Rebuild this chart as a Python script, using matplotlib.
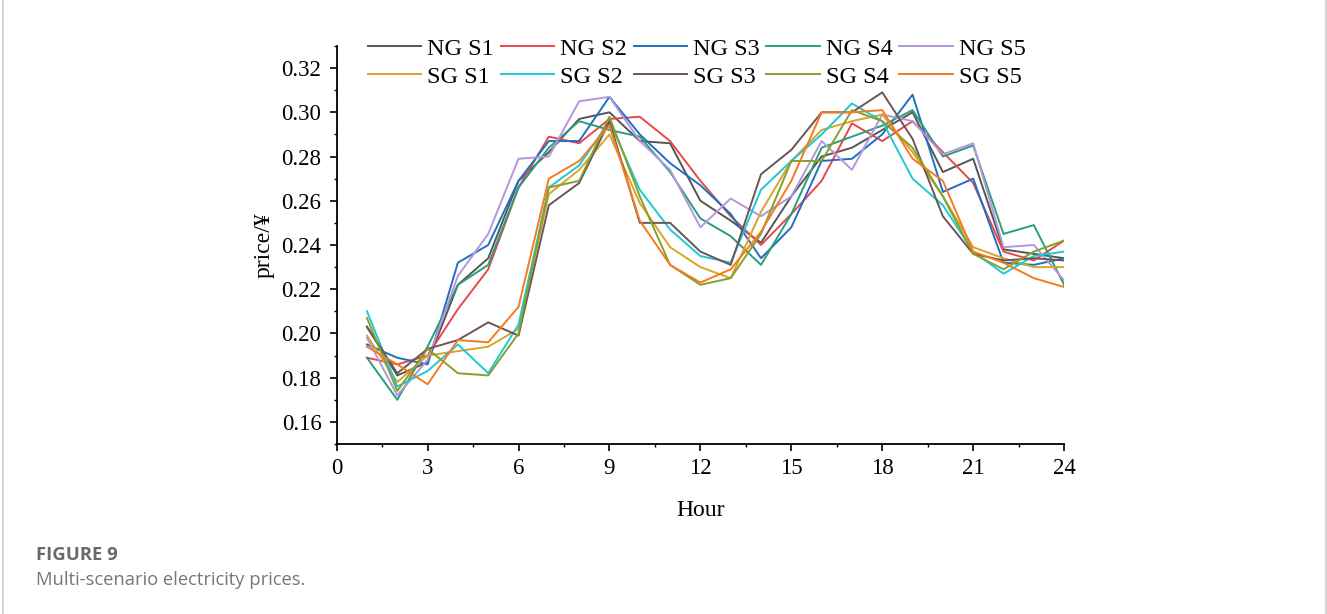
import matplotlib
matplotlib.use("Agg")
import matplotlib.pyplot as plt
from matplotlib.lines import Line2D
from matplotlib.ticker import MultipleLocator

hours = list(range(1, 25))

ng_s1 = [0.203, 0.181, 0.187, 0.222, 0.234, 0.269, 0.282, 0.297, 0.300, 0.287, 0.286, 0.260,
         0.251, 0.241, 0.262, 0.280, 0.284, 0.292, 0.300, 0.273, 0.279, 0.238, 0.236, 0.234]
ng_s2 = [0.189, 0.186, 0.190, 0.211, 0.229, 0.266, 0.289, 0.286, 0.297, 0.298, 0.287, 0.269,
         0.253, 0.240, 0.254, 0.269, 0.295, 0.287, 0.296, 0.282, 0.268, 0.237, 0.233, 0.242]
ng_s3 = [0.195, 0.189, 0.186, 0.232, 0.240, 0.269, 0.287, 0.287, 0.307, 0.290, 0.277, 0.267,
         0.254, 0.234, 0.248, 0.278, 0.279, 0.290, 0.308, 0.264, 0.270, 0.232, 0.231, 0.234]
ng_s4 = [0.189, 0.170, 0.194, 0.222, 0.231, 0.266, 0.284, 0.296, 0.292, 0.289, 0.273, 0.252,
         0.244, 0.231, 0.254, 0.284, 0.289, 0.294, 0.301, 0.280, 0.285, 0.245, 0.249, 0.222]
ng_s5 = [0.198, 0.172, 0.188, 0.226, 0.245, 0.279, 0.280, 0.305, 0.307, 0.287, 0.274, 0.248,
         0.261, 0.253, 0.262, 0.287, 0.274, 0.299, 0.296, 0.281, 0.286, 0.239, 0.240, 0.224]
sg_s1 = [0.199, 0.178, 0.190, 0.192, 0.194, 0.202, 0.263, 0.274, 0.290, 0.259, 0.239, 0.230,
         0.225, 0.255, 0.278, 0.292, 0.296, 0.299, 0.282, 0.262, 0.239, 0.234, 0.230, 0.230]
sg_s2 = [0.210, 0.176, 0.183, 0.195, 0.182, 0.204, 0.266, 0.276, 0.296, 0.265, 0.247, 0.235,
         0.232, 0.265, 0.278, 0.290, 0.304, 0.296, 0.270, 0.258, 0.237, 0.227, 0.235, 0.237]
sg_s3 = [0.203, 0.182, 0.193, 0.197, 0.205, 0.199, 0.258, 0.268, 0.296, 0.250, 0.250, 0.237,
         0.231, 0.272, 0.283, 0.300, 0.300, 0.309, 0.288, 0.253, 0.236, 0.233, 0.234, 0.233]
sg_s4 = [0.207, 0.174, 0.193, 0.182, 0.181, 0.200, 0.266, 0.269, 0.298, 0.262, 0.231, 0.222,
         0.225, 0.245, 0.278, 0.278, 0.301, 0.296, 0.284, 0.262, 0.236, 0.229, 0.237, 0.242]
sg_s5 = [0.194, 0.186, 0.177, 0.197, 0.196, 0.212, 0.270, 0.278, 0.294, 0.251, 0.231, 0.223,
         0.229, 0.246, 0.269, 0.300, 0.300, 0.301, 0.279, 0.269, 0.237, 0.232, 0.225, 0.221]

series = [
    ("NG S1", ng_s1, "#555555"),
    ("NG S2", ng_s2, "#e9474a"),
    ("NG S3", ng_s3, "#2070c0"),
    ("NG S4", ng_s4, "#2a9d7a"),
    ("NG S5", ng_s5, "#b695db"),
    ("SG S1", sg_s1, "#d9a42a"),
    ("SG S2", sg_s2, "#1ec8d6"),
    ("SG S3", sg_s3, "#6e5454"),
    ("SG S4", sg_s4, "#86a02c"),
    ("SG S5", sg_s5, "#f47b20"),
]

plt.rcParams["font.family"] = ["Liberation Serif", "DejaVu Serif"]

fig = plt.figure(figsize=(13.27, 6.14), dpi=100)
ax = fig.add_axes([0.2537, 0.2769, 0.5482, 0.6482])

for label, vals, color in series:
    ax.plot(hours, vals, color=color, lw=1.4, label=label)

ax.set_xlim(0, 24)
ax.set_ylim(0.15, 0.33)
ax.xaxis.set_major_locator(MultipleLocator(3))
ax.xaxis.set_minor_locator(MultipleLocator(1.5))
ax.yaxis.set_major_locator(MultipleLocator(0.02))
ax.yaxis.set_minor_locator(MultipleLocator(0.01))
ax.yaxis.set_major_formatter(plt.FuncFormatter(lambda v, p: f"{v:.2f}"))
for s in ("top", "right"):
    ax.spines[s].set_visible(False)
for s in ("left", "bottom"):
    ax.spines[s].set_linewidth(1.3)
ax.tick_params(which="major", direction="out", length=5, width=1.2, labelsize=16.5)
ax.tick_params(axis="x", which="major", pad=5)
ax.tick_params(axis="y", which="major", pad=6)
ax.tick_params(which="minor", direction="out", length=2.5, width=1.0)
ax.set_xlabel("Hour", fontsize=17, labelpad=15)
ax.set_ylabel("price/¥", fontsize=17, labelpad=5)

# legend: 2 rows x 5 cols, row-major order
h, l = ax.get_legend_handles_labels()
order = [0, 5, 1, 6, 2, 7, 3, 8, 4, 9]
ax.legend([h[i] for i in order], [l[i] for i in order], ncol=5, frameon=False,
          loc="center", bbox_to_anchor=(0.495, 0.958), fontsize=17.5,
          handlelength=2.2, handletextpad=0.25, columnspacing=0.27,
          labelspacing=0.25, borderpad=0)

# caption
fig.text(36 / 1327, 1 - 555 / 614, "FIGURE 9", fontsize=13.3, fontweight="bold",
         color="#686868", family="Open Sans", va="center")
fig.text(36 / 1327, 1 - 580 / 614, "Multi-scenario electricity prices.", fontsize=13.2,
         color="#777777", family="Open Sans", va="center")

# faint frame lines at the left and right edges
fig.add_artist(Line2D([3 / 1327, 3 / 1327], [0, 1], color="#cccccc", lw=1.2))
fig.add_artist(Line2D([1326 / 1327, 1326 / 1327], [0, 1], color="#cccccc", lw=1.2))

fig.savefig("out.png", dpi=100)
plt.close(fig)
